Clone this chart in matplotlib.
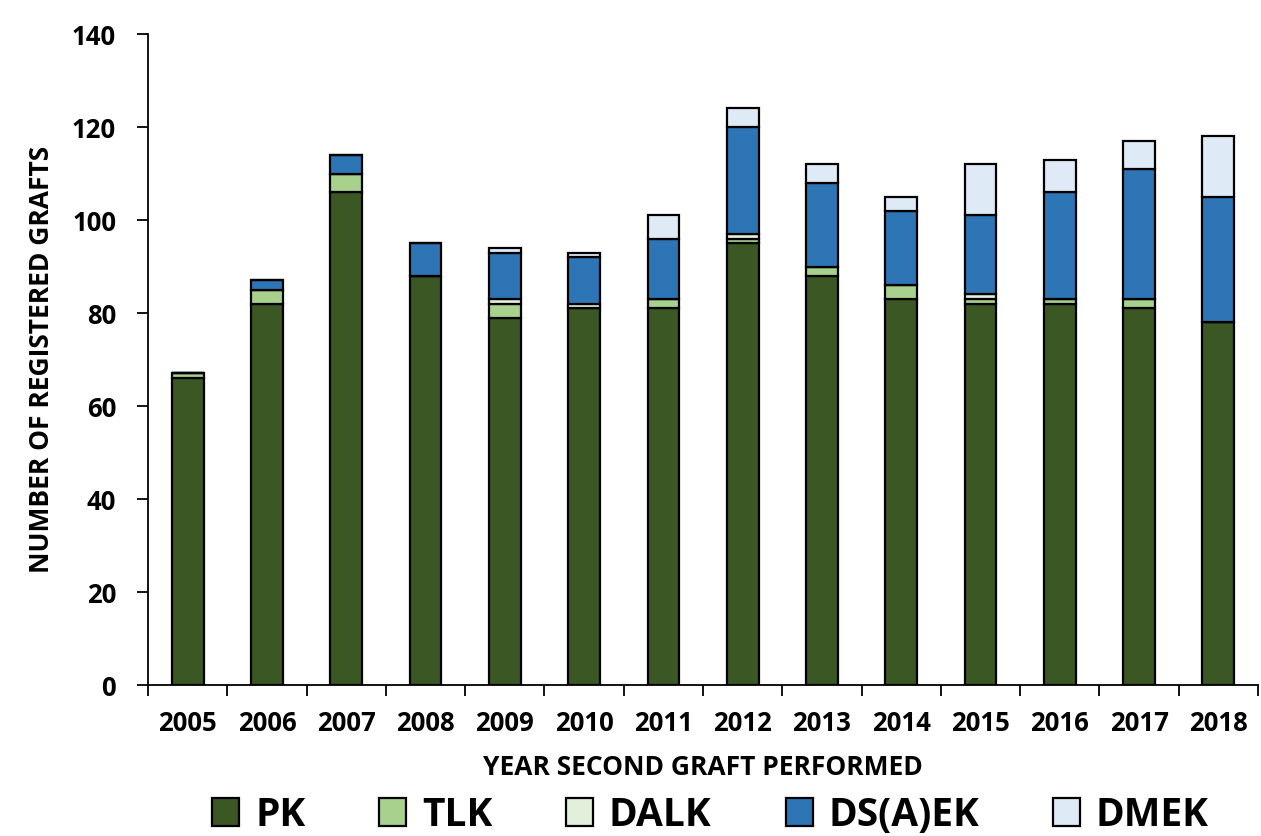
import numpy as np
import matplotlib
matplotlib.use("Agg")
import matplotlib.pyplot as plt

plt.rcParams['font.family'] = ['Open Sans', 'DejaVu Sans']
plt.rcParams['font.weight'] = 'bold'

years = ['2005', '2006', '2007', '2008', '2009', '2010', '2011',
         '2012', '2013', '2014', '2015', '2016', '2017', '2018']
pk = [66, 82, 106, 88, 79, 81, 81, 95, 88, 83, 82, 82, 81, 78]
tlk = [1, 3, 4, 0, 3, 0, 2, 1, 2, 3, 1, 1, 2, 0]
dalk = [0, 0, 0, 0, 1, 1, 0, 1, 0, 0, 1, 0, 0, 0]
dsaek = [0, 2, 4, 7, 10, 10, 13, 23, 18, 16, 17, 23, 28, 27]
dmek = [0, 0, 0, 0, 1, 1, 5, 4, 4, 3, 11, 7, 6, 13]

series = [("PK", pk, "#3B5723"), ("TLK", tlk, "#A9D18E"),
          ("DALK", dalk, "#E2EFDA"), ("DS(A)EK", dsaek, "#2E75B6"),
          ("DMEK", dmek, "#DEEBF7")]

fig = plt.figure(figsize=(12.61, 8.36), dpi=100)
ax = fig.add_axes([0.1174, 0.1806, 0.8802, 0.7787])

x = np.arange(len(years))
bottom = np.zeros(len(years))
for name, vals, col in series:
    vals = np.array(vals, dtype=float)
    ax.bar(x, vals, 0.4, bottom=bottom, color=col, edgecolor='black',
           linewidth=1.6, label=name, zorder=3)
    bottom += vals

ax.set_xlim(-0.5, len(years) - 0.5)
ax.set_ylim(0, 140)
ax.set_yticks(range(0, 141, 20))
ax.tick_params(axis='y', labelsize=18.5, length=8, width=1.3, direction='out', pad=15)

# Excel style: tick marks between categories, labels at centres
ax.set_xticks(np.arange(-0.5, len(years), 1.0))
ax.set_xticklabels([])
ax.tick_params(axis='x', which='major', length=8, width=1.3)
ax.set_xticks(x, minor=True)
ax.set_xticklabels(years, minor=True, fontsize=18.5, fontweight='bold')
ax.tick_params(axis='x', which='minor', length=0, pad=18)

for lab in ax.get_yticklabels():
    lab.set_fontweight('bold')

for s in ['top', 'right']:
    ax.spines[s].set_visible(False)
ax.spines['left'].set_linewidth(1.3)
ax.spines['bottom'].set_linewidth(1.3)

ax.set_xlabel("YEAR SECOND GRAFT PERFORMED", fontsize=19, fontweight='bold', labelpad=12)
ax.set_ylabel("NUMBER OF REGISTERED GRAFTS", fontsize=19, fontweight='bold', labelpad=12)

fig.legend(loc='center', bbox_to_anchor=(0.5635, 0.025), ncol=5, frameon=False,
           handlelength=0.7, handleheight=0.7, columnspacing=1.9,
           handletextpad=0.4, prop={'weight': 'bold', 'size': 28})

fig.savefig("out.png", dpi=100)
